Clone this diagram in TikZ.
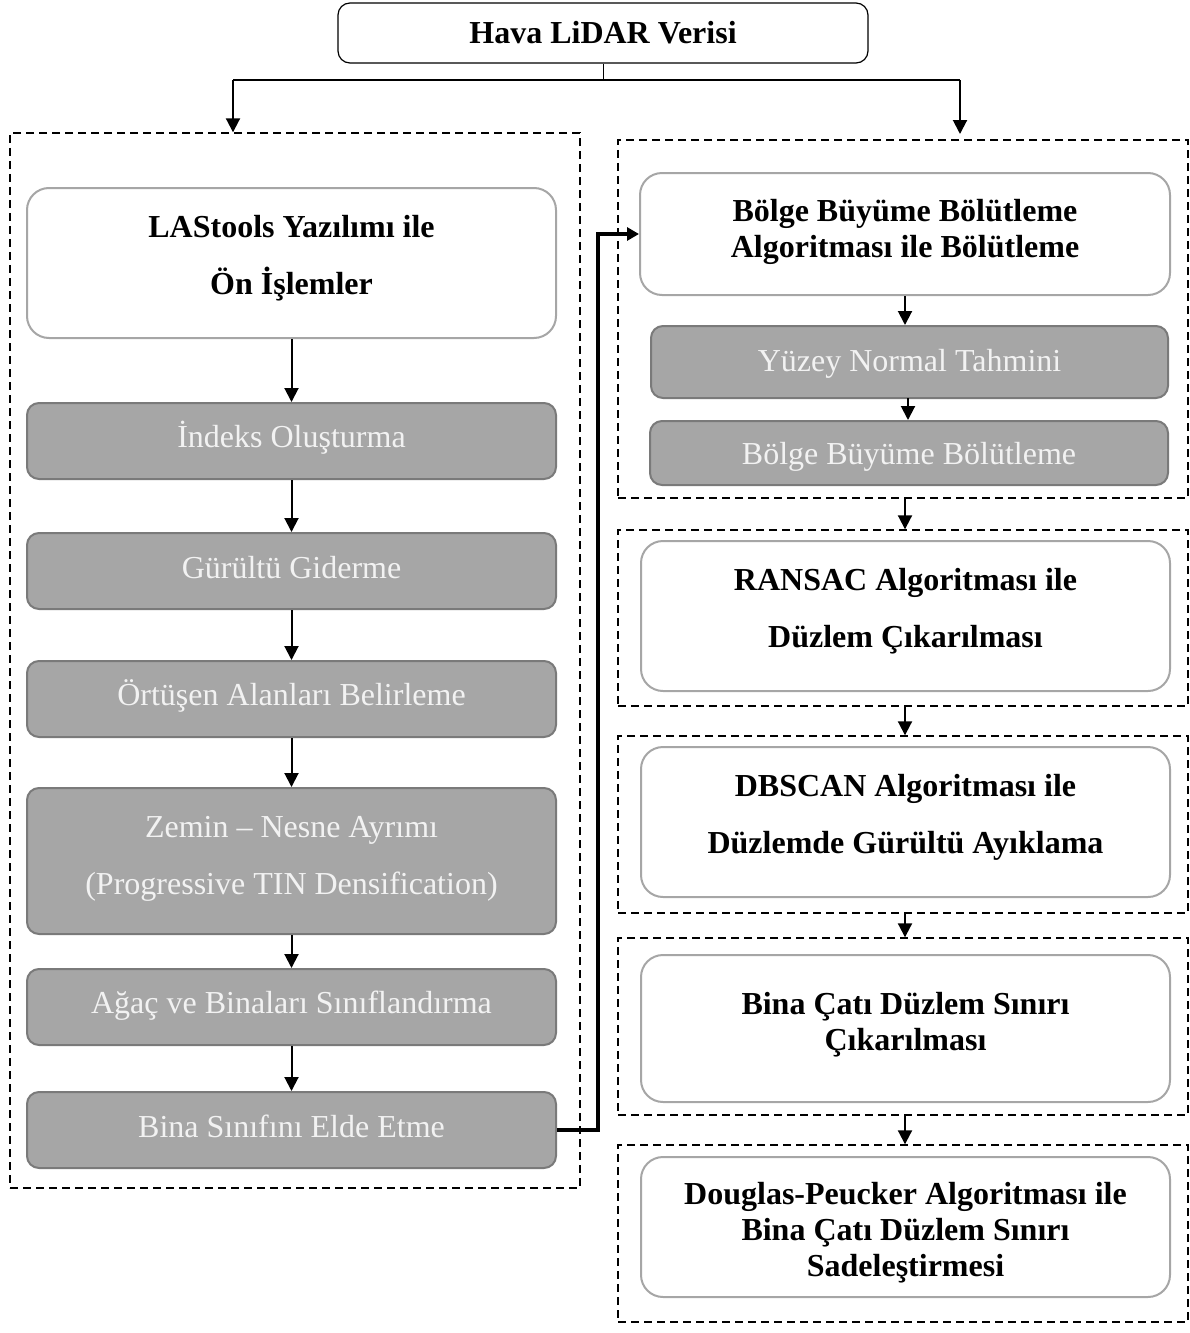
\documentclass[tikz,border=0pt]{standalone}
\usepackage{fontspec}
\setmainfont{Liberation Serif}
\usetikzlibrary{arrows.meta}
\definecolor{boxgray}{HTML}{A6A6A6}
\definecolor{boxedge}{HTML}{7A7A7A}
\definecolor{whiteedge}{HTML}{A6A6A6}
\definecolor{txtlight}{HTML}{F2F2F2}
\tikzset{
  base/.style={inner sep=0pt, align=center, font=\fontsize{16}{18}\selectfont},
  topbox/.style={base, draw=black, line width=0.6pt, rounded corners=6pt, fill=white, font=\fontsize{16}{18}\selectfont\bfseries},
  whitebox/.style={base, draw=whiteedge, line width=1pt, rounded corners=11pt, fill=white},
  graybox/.style={base, draw=boxedge, line width=1pt, rounded corners=6pt, fill=boxgray},
  wtext/.style={base, font=\fontsize{16}{18}\selectfont\bfseries, text=black},
  gtext/.style={base, text=txtlight},
  group/.style={draw=black, dash pattern=on 4pt off 2.5pt, line width=0.7pt, inner sep=0pt},
  arr/.style={draw=black, line width=1pt, -{Triangle[length=7pt,width=7pt]}},
  thickarr/.style={draw=black, line width=2pt, -{Triangle[length=6pt,width=6.5pt]}},
}
\begin{document}
\begin{tikzpicture}[x=0.5pt, y=-0.5pt]
\useasboundingbox (0,0) rectangle (1189,1333);
% groups
\node[group, minimum width=285pt, minimum height=527.5pt] (lg) at (295,660.5) {};
\node[group, minimum width=285pt, minimum height=179pt] (g1) at (903,319) {};
\node[group, minimum width=285pt, minimum height=88pt] (g2) at (903,618) {};
\node[group, minimum width=285pt, minimum height=88.5pt] (g3) at (903,824.5) {};
\node[group, minimum width=285pt, minimum height=88.5pt] (g4) at (903,1026.5) {};
\node[group, minimum width=285pt, minimum height=88.5pt] (g5) at (903,1233.5) {};
% top
\node[topbox, minimum width=265pt, minimum height=30pt] (top) at (603,33) {Hava LiDAR Verisi};
% left column boxes
\node[whitebox, minimum width=264.5pt, minimum height=75pt] (las) at (291.5,263) {};
\node[graybox, minimum width=264.5pt, minimum height=38pt] (ind) at (291.5,441) {};
\node[graybox, minimum width=264.5pt, minimum height=38pt] (gur) at (291.5,571) {};
\node[graybox, minimum width=264.5pt, minimum height=38pt] (ort) at (291.5,699) {};
\node[graybox, minimum width=264.5pt, minimum height=73pt] (zem) at (291.5,861) {};
\node[graybox, minimum width=264.5pt, minimum height=38pt] (aga) at (291.5,1007) {};
\node[graybox, minimum width=264.5pt, minimum height=38pt] (bsn) at (291.5,1130) {};
% left column texts
\node[wtext] (lasT) at ([yshift=2.3pt]las.center) {LAStools Yazılımı ile\\[10.5pt]Ön İşlemler};
\node[gtext] (indT) at ([yshift=1.5pt]ind.center) {İndeks Oluşturma};
\node[gtext] (gurT) at ([yshift=1.5pt]gur.center) {Gürültü Giderme};
\node[gtext] (ortT) at ([yshift=1.5pt]ort.center) {Örtüşen Alanları Belirleme};
\node[gtext] (zemT) at ([yshift=1pt]zem.center) {Zemin – Nesne Ayrımı\\[10.5pt](Progressive TIN Densification)};
\node[gtext] (agaT) at ([yshift=0.5pt]aga.center) {Ağaç ve Binaları Sınıflandırma};
\node[gtext] (bsnT) at ([yshift=2pt]bsn.center) {Bina Sınıfını Elde Etme};
% right column boxes
\node[whitebox, minimum width=265pt, minimum height=61pt] (bol) at (905,234) {};
\node[graybox, minimum width=258.5pt, minimum height=36pt] (yuz) at (909.5,362) {};
\node[graybox, minimum width=259pt, minimum height=32pt] (bbb) at (909,453) {};
\node[whitebox, minimum width=264.5pt, minimum height=75pt] (ran) at (905.5,616) {};
\node[whitebox, minimum width=264.5pt, minimum height=75pt] (dbs) at (905.5,822) {};
\node[whitebox, minimum width=264.5pt, minimum height=73.5pt] (bcd) at (905.5,1028.5) {};
\node[whitebox, minimum width=264.5pt, minimum height=70pt] (dp) at (905.5,1227) {};
% right column texts
\node[wtext] (bolT) at ([yshift=1pt]bol.center) {Bölge Büyüme Bölütleme\\Algoritması ile Bölütleme};
\node[gtext] (yuzT) at ([yshift=-1pt]yuz.center) {Yüzey Normal Tahmini};
\node[gtext] (bbbT) at ([yshift=-2pt]bbb.center) {Bölge Büyüme Bölütleme};
\node[wtext] (ranT) at ([yshift=2.5pt]ran.center) {RANSAC Algoritması ile\\[10.5pt]Düzlem Çıkarılması};
\node[wtext] (dbsT) at ([yshift=2.5pt]dbs.center) {DBSCAN Algoritması ile\\[10.5pt]Düzlemde Gürültü Ayıklama};
\node[wtext] (bcdT) at ([yshift=2pt]bcd.center) {Bina Çatı Düzlem Sınırı\\Çıkarılması};
\node[wtext] (dpT) at ([yshift=-3pt]dp.center) {Douglas-Peucker Algoritması ile\\Bina Çatı Düzlem Sınırı\\Sadeleştirmesi};
% top connectors
\coordinate (hl) at (233,80);
\coordinate (hr) at (960,80);
\coordinate (ra) at (960,134);
\draw[line width=0.5pt] (top.south) -- (top.south |- hl);
\draw[line width=1pt] (hl) -- (hr);
\draw[arr] (hl) -- (hl |- lg.north);
\draw[arr] (hr) -- (ra);
% left arrows
\draw[arr] (las) -- (ind);
\draw[arr] (ind) -- (gur);
\draw[arr] (gur) -- (ort);
\draw[arr] (ort) -- (zem);
\draw[arr] (zem) -- (aga);
\draw[arr] (aga) -- (bsn);
% cross connector
\coordinate (bend) at (598,1130);
\draw[thickarr] (bsn.east) -- (bend) |- (bol.west);
% right arrows
\draw[arr] (bol.south) -- (bol.south |- yuz.north);
\coordinate (ya) at (908,398);
\draw[arr] (ya) -- (ya |- bbb.north);
\draw[arr] (g1.south -| bol.south) -- (g2.north -| bol.south);
\draw[arr] (g2.south -| bol.south) -- (g3.north -| bol.south);
\draw[arr] (g3.south -| bol.south) -- (g4.north -| bol.south);
\draw[arr] (g4.south -| bol.south) -- (g5.north -| bol.south);
\end{tikzpicture}
\end{document}
